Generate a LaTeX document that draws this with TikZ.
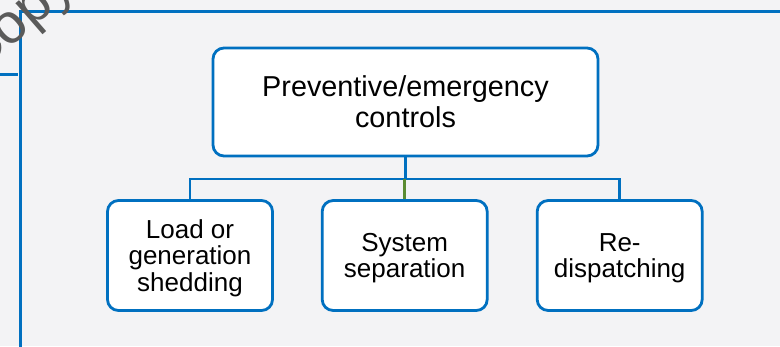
\documentclass[tikz,border=0pt]{standalone}
\usepackage{fontspec}
\setmainfont{Liberation Sans}
\definecolor{framblue}{HTML}{0070C0}
\definecolor{linkgreen}{HTML}{5B8C32}
\definecolor{pagebg}{HTML}{F3F3F5}
\definecolor{markgray}{HTML}{5A5A5A}
\begin{document}
\begin{tikzpicture}[x=1pt,y=-1pt,
  box/.style={draw=framblue, line width=2.8pt, fill=white, rounded corners=11pt,
    align=center, text depth=0pt, inner sep=0pt},
  topbox/.style={box, minimum width=385pt, minimum height=108pt,
    font={\fontsize{28.8}{31}\selectfont}},
  leafbox/.style={box, minimum width=165pt, minimum height=110pt,
    font={\fontsize{26}{26.5}\selectfont}},
  conn/.style={draw=framblue, line width=2.8pt},
  greenconn/.style={draw=linkgreen, line width=2.8pt},
  frameline/.style={draw=framblue, line width=3pt}]
  \useasboundingbox (0,0) rectangle (780,346);
  \clip (0,0) rectangle (780,346);
  \fill[pagebg] (0,0) rectangle (780,346);

  % slide frame
  \draw[frameline] (20,350) -- (20,11) -- (790,11);
  \draw[frameline] (-5,74) -- (18,74);

  % tree connectors
  \coordinate (bus) at (0,179);
  \coordinate (mainfoot) at (405.5,156);
  \draw[conn] (mainfoot) -- (mainfoot |- bus);
  \coordinate (leftfoot) at (190,201);
  \coordinate (midfoot) at (404.7,201);
  \coordinate (rightfoot) at (619.7,201);
  \draw[conn] (leftfoot) -- (leftfoot |- bus) -| (rightfoot);
  \draw[greenconn] (midfoot |- bus) -- (midfoot);

  % boxes
  \node[topbox]  (main)  at (405.5,102) {Preventive/emergency\\controls};
  \node[leafbox] (load)  at (190,255.5) {Load or\\generation\\shedding};
  \node[leafbox] (sep)   at (404.7,255.5) {System\\separation};
  \node[leafbox] (redis) at (619.7,255.5) {Re-\\dispatching};

  % watermark fragment
  \node[rotate=41, anchor=base west, inner sep=0pt, text=markgray,
    font={\fontsize{56}{56}\selectfont}] (mark) at (-22,76) {Copy};
\end{tikzpicture}
\end{document}
